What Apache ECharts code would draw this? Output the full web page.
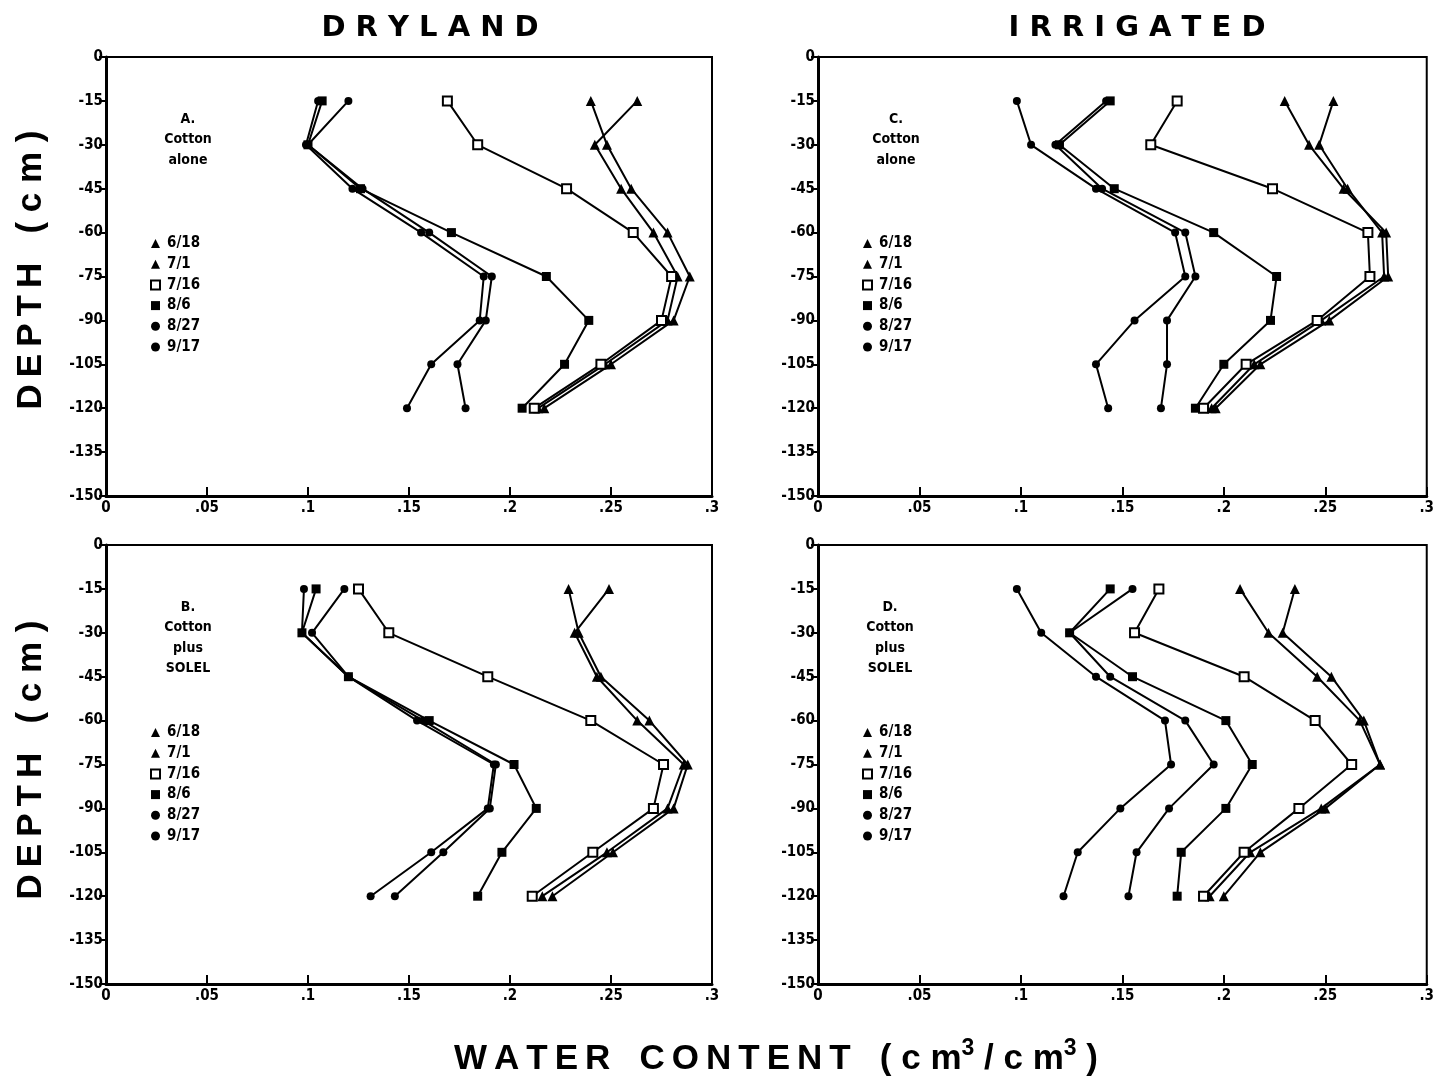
<!DOCTYPE html>
<html>
<head>
<meta charset="utf-8">
<script src="https://cdn.jsdelivr.net/npm/echarts@6/dist/echarts.min.js"></script>
<style>
html,body{margin:0;padding:0;background:#fff;}
#chart{width:1437px;height:1076px;}
</style>
</head>
<body>
<div id="chart"></div>
<script>
// ---- data ----
const depths = [-15, -30, -45, -60, -75, -90, -105, -120];
const dates = ['6/18', '7/1', '7/16', '8/6', '8/27', '9/17'];
const yTicks = [0, -15, -30, -45, -60, -75, -90, -105, -120, -135, -150];
const xTicks = [0, 0.05, 0.1, 0.15, 0.2, 0.25, 0.3];

// A. Dryland, cotton alone
const A_0618 = [0.240, 0.248, 0.260, 0.278, 0.289, 0.281, 0.250, 0.217];
const A_0701 = [0.263, 0.242, 0.255, 0.271, 0.283, 0.278, 0.247, 0.214];
const A_0716 = [0.169, 0.184, 0.228, 0.261, 0.280, 0.275, 0.245, 0.212];
const A_0806 = [0.107, 0.100, 0.126, 0.171, 0.218, 0.239, 0.227, 0.206];
const A_0827 = [0.120, 0.100, 0.127, 0.160, 0.191, 0.188, 0.174, 0.178];
const A_0917 = [0.105, 0.099, 0.122, 0.156, 0.187, 0.185, 0.161, 0.149];

// B. Dryland, cotton plus SOLEL
const B_0618 = [0.229, 0.234, 0.245, 0.269, 0.288, 0.281, 0.251, 0.221];
const B_0701 = [0.249, 0.232, 0.243, 0.263, 0.286, 0.278, 0.248, 0.216];
const B_0716 = [0.125, 0.140, 0.189, 0.240, 0.276, 0.271, 0.241, 0.211];
const B_0806 = [0.104, 0.097, 0.120, 0.160, 0.202, 0.213, 0.196, 0.184];
const B_0827 = [0.118, 0.102, 0.120, 0.157, 0.193, 0.190, 0.167, 0.143];
const B_0917 = [0.098, 0.097, 0.120, 0.154, 0.192, 0.189, 0.161, 0.131];

// C. Irrigated, cotton alone
const C_0618 = [0.230, 0.242, 0.259, 0.280, 0.281, 0.252, 0.218, 0.196];
const C_0701 = [0.254, 0.247, 0.261, 0.278, 0.279, 0.248, 0.215, 0.194];
const C_0716 = [0.177, 0.164, 0.224, 0.271, 0.272, 0.246, 0.211, 0.190];
const C_0806 = [0.144, 0.119, 0.146, 0.195, 0.226, 0.223, 0.200, 0.186];
const C_0827 = [0.142, 0.117, 0.140, 0.181, 0.186, 0.172, 0.172, 0.169];
const C_0917 = [0.098, 0.105, 0.137, 0.176, 0.181, 0.156, 0.137, 0.143];

// D. Irrigated, cotton plus SOLEL
const D_0618 = [0.208, 0.222, 0.246, 0.267, 0.277, 0.248, 0.213, 0.193];
const D_0701 = [0.235, 0.229, 0.253, 0.269, 0.277, 0.250, 0.218, 0.200];
const D_0716 = [0.168, 0.156, 0.210, 0.245, 0.263, 0.237, 0.210, 0.190];
const D_0806 = [0.144, 0.124, 0.155, 0.201, 0.214, 0.201, 0.179, 0.177];
const D_0827 = [0.155, 0.124, 0.144, 0.181, 0.195, 0.173, 0.157, 0.153];
const D_0917 = [0.098, 0.110, 0.137, 0.171, 0.174, 0.149, 0.128, 0.121];

const panelSeries = [
  [A_0618, A_0701, A_0716, A_0806, A_0827, A_0917],
  [C_0618, C_0701, C_0716, C_0806, C_0827, C_0917],
  [B_0618, B_0701, B_0716, B_0806, B_0827, B_0917],
  [D_0618, D_0701, D_0716, D_0806, D_0827, D_0917]
];
const panelLabels = ['A.\nCotton\nalone', 'C.\nCotton\nalone', 'B.\nCotton\nplus\nSOLEL', 'D.\nCotton\nplus\nSOLEL'];

// ---- styling ----
const COND = '"DejaVu Sans Condensed","Liberation Sans Narrow","Roboto Condensed","DejaVu Sans",sans-serif';
const BIG = '"DejaVu Sans","Liberation Sans",sans-serif';
const ARIAL = '"Liberation Sans","DejaVu Sans",sans-serif';
const TS = '\u2009'; // thin space
const symbols = ['triangle', 'triangle', 'rect', 'rect', 'circle', 'circle'];
const symSizes = [10, 10, 9, 9, 8, 8];
const fills = ['#000', '#000', '#fff', '#000', '#000', '#000'];

const gridPos = [
  {left: 106, top: 57, width: 606, height: 439},
  {left: 818, top: 57, width: 612, height: 439},
  {left: 106, top: 545, width: 606, height: 439},
  {left: 818, top: 545, width: 612, height: 439}
];
const legendPos = [
  {left: 145, top: 231},
  {left: 857, top: 231},
  {left: 145, top: 720},
  {left: 857, top: 720}
];
const labelPos = [
  {x: 188, y: 109},
  {x: 896, y: 109},
  {x: 188, y: 597},
  {x: 890, y: 597}
];

function fmtX(v) {
  const r = Number(v.toFixed(2));
  if (r === 0) return '0';
  return String(r).replace(/^0\./, '.');
}
function spaced(s, sep) { return s.split('').join(sep); }

const grids = [], xAxes = [], yAxes = [], series = [], legends = [], graphics = [];

gridPos.forEach((g, i) => {
  grids.push(Object.assign({show: true, borderColor: '#000', borderWidth: 2, backgroundColor: 'transparent'}, g));
  xAxes.push({
    type: 'value', gridIndex: i, min: xTicks[0], max: xTicks[xTicks.length - 1], interval: 0.05,
    axisLine: {show: true, onZero: false, lineStyle: {color: '#000', width: 3}},
    axisTick: {show: true, inside: true, length: 9, lineStyle: {color: '#000', width: 2}},
    axisLabel: {formatter: fmtX, color: '#000', fontSize: 15, fontWeight: 'bold', fontFamily: COND, margin: 5},
    splitLine: {show: false}
  });
  yAxes.push({
    type: 'value', gridIndex: i, min: yTicks[yTicks.length - 1], max: yTicks[0], interval: 15,
    axisLine: {show: true, onZero: false, lineStyle: {color: '#000', width: 3}},
    axisTick: {show: true, inside: false, length: 7, lineStyle: {color: '#000', width: 2}},
    axisLabel: {color: '#000', fontSize: 15, fontWeight: 'bold', fontFamily: COND, margin: 3},
    splitLine: {show: false}
  });
  panelSeries[i].forEach((vals, k) => {
    series.push({
      name: dates[k], type: 'line', xAxisIndex: i, yAxisIndex: i,
      data: vals.map((v, j) => [v, depths[j]]),
      symbol: symbols[k], symbolSize: symSizes[k], showAllSymbol: true,
      lineStyle: {color: '#000', width: 2},
      itemStyle: {color: fills[k], borderColor: '#000', borderWidth: k === 2 ? 2 : 0},
      emphasis: {disabled: true}, animation: false, z: 2 + (k === 2 ? 1 : 0)
    });
  });
  legends.push(Object.assign({
    orient: 'vertical', itemWidth: 9, itemHeight: 9, itemGap: 5.7, selectedMode: false,
    textStyle: {color: '#000', fontSize: 15, fontWeight: 'bold', fontFamily: COND, padding: [0, 0, 0, 2]},
    data: dates.map((d, k) => ({
      name: d, icon: symbols[k],
      itemStyle: {color: fills[k], borderColor: '#000', borderWidth: k === 2 ? 2 : 0}
    }))
  }, legendPos[i]));
  graphics.push({
    type: 'text', x: labelPos[i].x, y: labelPos[i].y, z: 10,
    style: {text: panelLabels[i], font: 'bold 14px ' + COND, fill: '#000', align: 'center', verticalAlign: 'top', lineHeight: 20.5}
  });
});

const depthText = spaced('DEPTH', TS) + '   ( c m )';
graphics.push(
  {type: 'text', x: 430, y: 28, style: {text: 'D R Y L A N D', font: 'bold 29px ' + BIG, fill: '#000', align: 'center', verticalAlign: 'middle'}},
  {type: 'text', x: 1137, y: 28, style: {text: 'I R R I G A T E D', font: 'bold 29px ' + BIG, fill: '#000', align: 'center', verticalAlign: 'middle'}},
  {type: 'text', x: 31, y: 270, rotation: Math.PI / 2, style: {text: depthText, font: 'bold 35px ' + ARIAL, fill: '#000', align: 'center', verticalAlign: 'middle'}},
  {type: 'text', x: 31, y: 760, rotation: Math.PI / 2, style: {text: depthText, font: 'bold 35px ' + ARIAL, fill: '#000', align: 'center', verticalAlign: 'middle'}},
  {type: 'text', x: 776, y: 1057, style: {
    text: '{a|' + spaced('WATER', TS) + '   ' + spaced('CONTENT', TS) + '   ( c m}{s|3}{a| / c m}{s|3}{a| )}',
    align: 'center', verticalAlign: 'middle',
    rich: {
      a: {font: 'bold 35px ' + ARIAL, fill: '#000', lineHeight: 40, verticalAlign: 'bottom'},
      s: {font: 'bold 23px ' + ARIAL, fill: '#000', lineHeight: 40, verticalAlign: 'top'}
    }
  }}
);

const chart = echarts.init(document.getElementById('chart'), null, {renderer: 'canvas'});
chart.setOption({
  backgroundColor: '#fff',
  animation: false,
  grid: grids, xAxis: xAxes, yAxis: yAxes, series: series, legend: legends, graphic: graphics
});
</script>
</body>
</html>
